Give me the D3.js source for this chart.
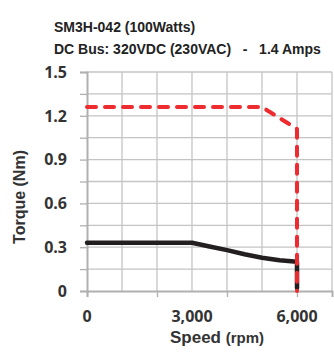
<!DOCTYPE html>
<html>
<head>
<meta charset="utf-8">
<script src="https://cdn.jsdelivr.net/npm/d3@7"></script>
<style>
  html, body { margin: 0; padding: 0; background: #fff; }
  svg { display: block; }
</style>
</head>
<body>
<script>
// Torque-speed curve for SM3H-042 servo motor
const titleLines = ["SM3H-042 (100Watts)", "DC Bus: 320VDC (230VAC)   -   1.4 Amps"];

// Peak (intermittent) torque envelope
const peakSpeed  = [0, 5000, 6000, 6000];
const peakTorque = [1.26, 1.26, 1.11, 0];

// Continuous torque
const contSpeed  = [0, 3000, 3500, 4000, 4500, 5000, 5500, 6000, 6000];
const contTorque = [0.33, 0.33, 0.305, 0.28, 0.252, 0.228, 0.21, 0.2, 0.02];

const yTickValues = [0, 0.3, 0.6, 0.9, 1.2, 1.5];
const yGridValues = [0, 0.15, 0.3, 0.45, 0.6, 0.75, 0.9, 1.05, 1.2, 1.35, 1.5];
const xLabelValues = [0, 3000, 6000];
const xTickValues = [0, 2000, 4000, 6000];
const xGridValues = [1000, 2000, 3000, 4000, 5000, 6000, 7000];

const W = 334, H = 360;
const svg = d3.select("body").append("svg").attr("width", W).attr("height", H);

const x = d3.scaleLinear().domain([0, 7000]).range([87, 332]);
const y = d3.scaleLinear().domain([0, 1.5]).range([291, 72]);

const gridColor = "#c4c4c4";
const axisColor = "#b0b0b0";
const labelColor = "#333";

// Title
svg.append("g").selectAll("text").data(titleLines).join("text")
  .attr("x", 54).attr("y", (d, i) => 32 + i * 22)
  .attr("font-family", "'Liberation Sans', Arial, sans-serif")
  .attr("font-weight", "bold").attr("font-size", 14)
  .attr("fill", "#222")
  .attr("xml:space", "preserve")
  .style("white-space", "pre")
  .text(d => d);

// Horizontal gridlines
svg.append("g").selectAll("line").data(yGridValues.filter(v => v > 0)).join("line")
  .attr("x1", x(0)).attr("x2", x(7000))
  .attr("y1", d => y(d)).attr("y2", d => y(d))
  .attr("stroke", gridColor).attr("stroke-width", 1.3);

// Vertical gridlines
svg.append("g").selectAll("line").data(xGridValues).join("line")
  .attr("x1", d => x(d)).attr("x2", d => x(d))
  .attr("y1", y(0)).attr("y2", y(1.5))
  .attr("stroke", gridColor).attr("stroke-width", 1.3);

// Y axis
const yAxis = d3.axisLeft(y).tickValues(yGridValues).tickSize(7).tickFormat("");
const gy = svg.append("g").attr("transform", `translate(${x(0)},0)`).call(yAxis);
gy.select(".domain").attr("stroke", axisColor).attr("stroke-width", 2);
gy.selectAll(".tick line").attr("stroke", axisColor).attr("stroke-width", 1.3);

svg.append("g").selectAll("text").data(yTickValues).join("text")
  .attr("x", 67).attr("y", d => y(d))
  .attr("dy", "0.36em")
  .attr("text-anchor", "end")
  .attr("font-family", "'Open Sans', sans-serif")
  .attr("font-weight", 700).attr("font-size", 16)
  .attr("fill", labelColor)
  .text(d => d === 0 ? "0" : d3.format(".1f")(d));

// X axis
const xAxis = d3.axisBottom(x).tickValues(xTickValues).tickSize(6).tickFormat("");
const gx = svg.append("g").attr("transform", `translate(0,${y(0)})`).call(xAxis);
gx.select(".domain").attr("stroke", axisColor).attr("stroke-width", 2);
gx.selectAll(".tick line").attr("stroke", axisColor).attr("stroke-width", 1.3);

svg.append("g").selectAll("text").data(xLabelValues).join("text")
  .attr("x", d => x(d)).attr("y", 322)
  .attr("text-anchor", "middle")
  .attr("font-family", "'Open Sans', sans-serif")
  .attr("font-weight", 700).attr("font-size", 16)
  .attr("fill", labelColor)
  .text(d => d3.format(",")(d));

// Axis titles
const xt = svg.append("text")
  .attr("x", 217).attr("y", 343)
  .attr("text-anchor", "middle")
  .attr("font-family", "'Liberation Sans', Arial, sans-serif")
  .attr("font-weight", "bold")
  .attr("fill", labelColor);
xt.append("tspan").attr("font-size", 17).text("Speed ");
xt.append("tspan").attr("font-size", 15).text("(rpm)");

svg.append("text")
  .attr("transform", `translate(25,197) rotate(-90)`)
  .attr("text-anchor", "middle")
  .attr("font-family", "'Liberation Sans', Arial, sans-serif")
  .attr("font-weight", "bold").attr("font-size", 16)
  .attr("fill", labelColor)
  .text("Torque (Nm)");

// Curves
const line = d3.line().x(d => x(d[0])).y(d => y(d[1]));

svg.append("path")
  .datum(contSpeed.map((s, i) => [s, contTorque[i]]))
  .attr("d", line)
  .attr("fill", "none")
  .attr("stroke", "#231f20").attr("stroke-width", 4.5)
  .attr("stroke-linejoin", "round").attr("stroke-linecap", "round");

svg.append("path")
  .datum(peakSpeed.map((s, i) => [s, peakTorque[i]]))
  .attr("d", line)
  .attr("fill", "none")
  .attr("stroke", "#ee2b2e").attr("stroke-width", 4)
  .attr("stroke-dasharray", "9 9")
  .attr("stroke-linejoin", "round").attr("stroke-linecap", "round");
</script>
</body>
</html>
